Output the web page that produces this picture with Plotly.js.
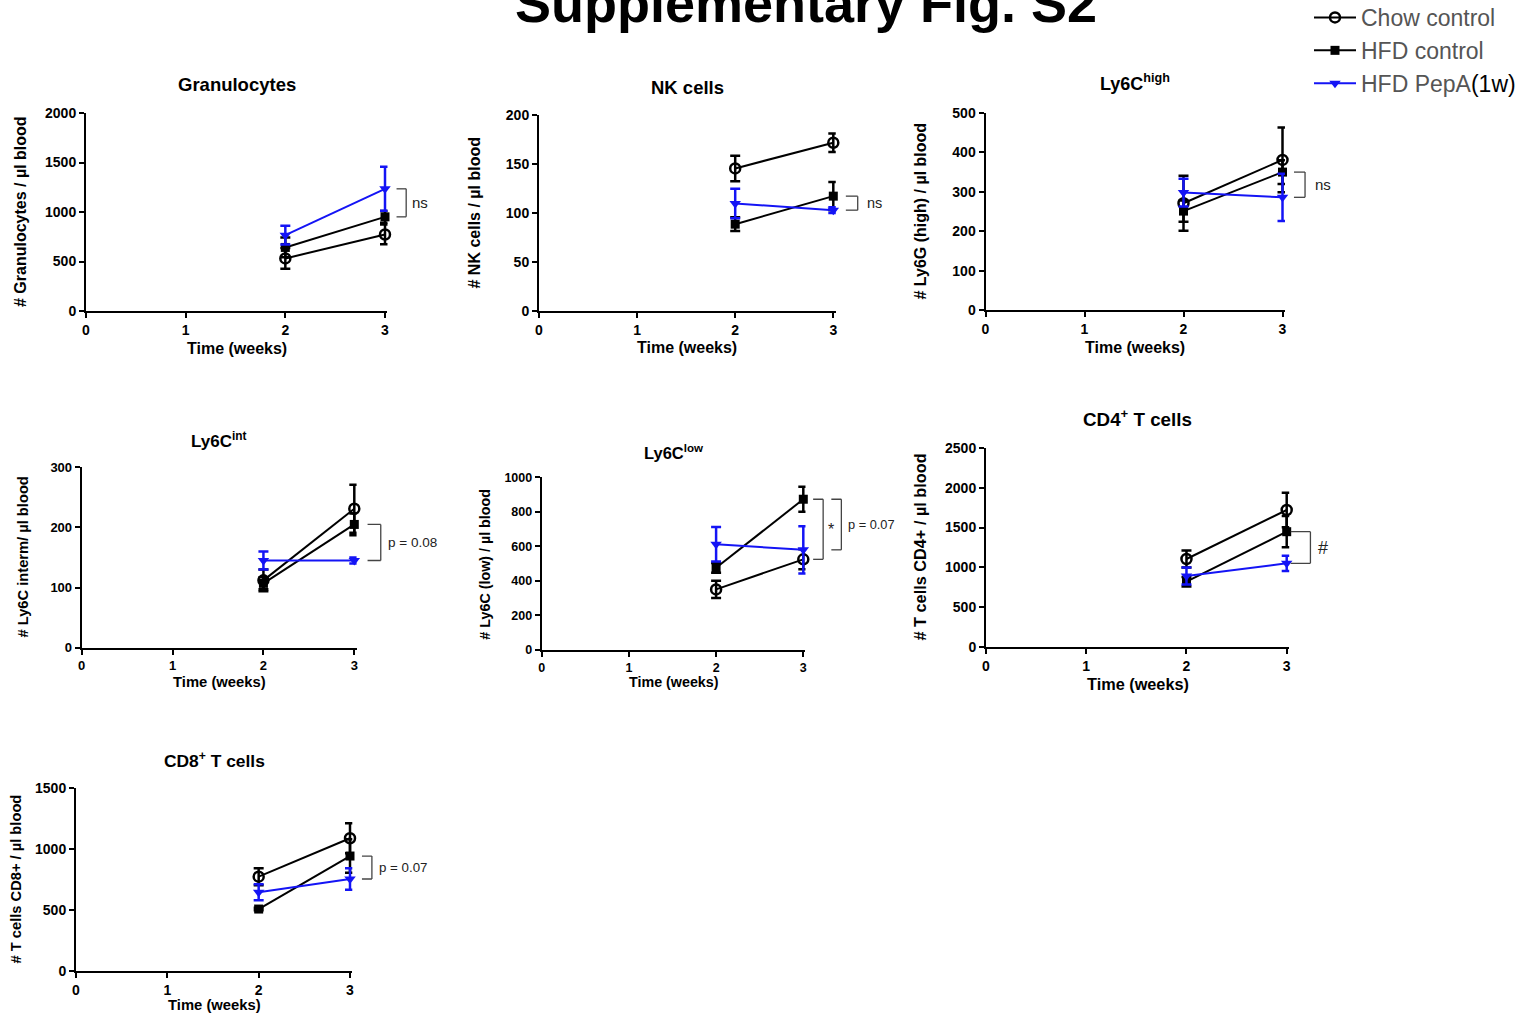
<!DOCTYPE html>
<html>
<head>
<meta charset="utf-8">
<script src="https://cdn.plot.ly/plotly-3.0.1.min.js"></script>
<style>
  html, body { margin: 0; padding: 0; background: #fff; }
  #chart { width: 1535px; height: 1016px; }
</style>
</head>
<body>
<div id="chart"></div>
<script>
// ---------------- DATA ----------------
const weeks = [2, 3];
const xTicks = [0, 1, 2, 3];
const groupNames = ['Chow control', 'HFD control', 'HFD PepA<span style="color:#000">(1w)</span>'];

// Granulocytes
const granChow = [531, 773], granChowErr = [105, 100];
const granHFD = [642, 951], granHFDErr = [100, 60];
const granPepA = [766, 1234], granPepAErr = [95, 222];
const granTicks = [0, 500, 1000, 1500, 2000];

// NK cells
const nkChow = [145.5, 171.7], nkChowErr = [13, 9.5];
const nkHFD = [88.6, 117.2], nkHFDErr = [7, 14.5];
const nkPepA = [109.7, 102.9], nkPepAErr = [15, 3];
const nkTicks = [0, 50, 100, 150, 200];

// Ly6C high
const hiChow = [271, 381], hiChowErr = [70, 82];
const hiHFD = [251, 350], hiHFDErr = [27, 30];
const hiPepA = [298, 286], hiPepAErr = [35, 60];
const hiTicks = [0, 100, 200, 300, 400, 500];

// Ly6C int
const intChow = [112, 231], intChowErr = [18, 40];
const intHFD = [107, 205], intHFDErr = [10, 18];
const intPepA = [145, 145], intPepAErr = [15, 5];
const intTicks = [0, 100, 200, 300];

// Ly6C low
const lowChow = [351, 525], lowChowErr = [50, 58];
const lowHFD = [476, 873], lowHFDErr = [28, 73];
const lowPepA = [612, 580], lowPepAErr = [100, 137];
const lowTicks = [0, 200, 400, 600, 800, 1000];

// CD4+ T cells
const cd4Chow = [1106, 1720], cd4ChowErr = [105, 215];
const cd4HFD = [822, 1448], cd4HFDErr = [60, 195];
const cd4PepA = [893, 1052], cd4PepAErr = [105, 95];
const cd4Ticks = [0, 500, 1000, 1500, 2000, 2500];

// CD8+ T cells
const cd8Chow = [773, 1089], cd8ChowErr = [70, 123];
const cd8HFD = [507, 943], cd8HFDErr = [10, 137];
const cd8PepA = [645, 754], cd8PepAErr = [65, 88];
const cd8Ticks = [0, 500, 1000, 1500];

// Significance labels
const granSig = 'ns', nkSig = 'ns', hiSig = 'ns', intSig = 'p = 0.08';
const lowSigA = '*', lowSigB = 'p = 0.07', cd4Sig = '#', cd8Sig = 'p = 0.07';

// ---------------- LAYOUT / STYLE ----------------
const W = 1535, H = 1016;
const FONT = 'Liberation Sans, Arial, Helvetica, sans-serif';
const BLUE = 'rgb(20,20,245)';
const XMAX = 3.025;

// pixel geometry of each panel: left (x=0), x3 (x=3), top, bottom
const panels = [
  {title: 'Granulocytes', ytitle: '# Granulocytes / µl blood', chow: granChow, chowE: granChowErr, hfd: granHFD, hfdE: granHFDErr, pep: granPepA, pepE: granPepAErr, ticks: granTicks,
   px: [86, 385, 113, 311], tickSize: 14, titleSize: 18.5, titleShift: 29, yTitleX: 20, yTitleSize: 16, xTitleSize: 16, xTitleShift: -37,
   brackets: [{a: 'hfd', b: 'pep', x0: 1.03, x1: 1.062, label: granSig, tx: 1.074, size: 15}]},
  {title: 'NK cells', ytitle: '# NK cells / µl blood', chow: nkChow, chowE: nkChowErr, hfd: nkHFD, hfdE: nkHFDErr, pep: nkPepA, pepE: nkPepAErr, ticks: nkTicks,
   px: [539, 833.3, 115, 311], tickSize: 14, titleSize: 18.5, titleShift: 28, yTitleX: 473.5, yTitleSize: 16, xTitleSize: 16, xTitleShift: -36,
   brackets: [{a: 'hfd', b: 'pep', x0: 1.034, x1: 1.074, label: nkSig, tx: 1.098, size: 14.5}]},
  {title: 'Ly6C<sup>high</sup>', ytitle: '# Ly6G (high) / µl blood', chow: hiChow, chowE: hiChowErr, hfd: hiHFD, hfdE: hiHFDErr, pep: hiPepA, pepE: hiPepAErr, ticks: hiTicks,
   px: [985.5, 1282.5, 113, 310], tickSize: 14, titleSize: 18, titleShift: 31, yTitleX: 920, yTitleSize: 16, xTitleSize: 16, xTitleShift: -37,
   brackets: [{a: 'hfd', b: 'pep', x0: 1.03, x1: 1.067, label: hiSig, tx: 1.093, size: 15}]},
  {title: 'Ly6C<sup>int</sup>', ytitle: '# Ly6C interm/ µl blood', chow: intChow, chowE: intChowErr, hfd: intHFD, hfdE: intHFDErr, pep: intPepA, pepE: intPepAErr, ticks: intTicks,
   px: [81.7, 354.3, 467.3, 647.7], tickSize: 13, titleSize: 17, titleShift: 27, yTitleX: 22, yTitleSize: 14.7, xTitleSize: 14.8, xTitleShift: -34,
   brackets: [{a: 'hfd', b: 'pep', x0: 1.04, x1: 1.088, label: intSig, tx: 1.108, size: 13.5}]},
  {title: 'Ly6C<sup>low</sup>', ytitle: '# Ly6C (low) / µl blood', chow: lowChow, chowE: lowChowErr, hfd: lowHFD, hfdE: lowHFDErr, pep: lowPepA, pepE: lowPepAErr, ticks: lowTicks,
   px: [541.7, 803.3, 477.3, 650], tickSize: 12.5, titleSize: 16.5, titleShift: 25, yTitleX: 485, yTitleSize: 14.3, xTitleSize: 14.3, xTitleShift: -32,
   brackets: [{a: 'hfd', b: 'chow', x0: 1.029, x1: 1.067, label: lowSigA, tx: 1.076, size: 16},
              {a: 'hfd', b: 'pep', x0: 1.098, x1: 1.136, label: lowSigB, tx: 1.155, size: 12.8}]},
  {title: 'CD4<sup>+</sup> T cells', ytitle: '# T cells CD4+ / µl blood', chow: cd4Chow, chowE: cd4ChowErr, hfd: cd4HFD, hfdE: cd4HFDErr, pep: cd4PepA, pepE: cd4PepAErr, ticks: cd4Ticks,
   px: [986, 1286.7, 447.7, 647.3], tickSize: 14, titleSize: 18.8, titleShift: 30, yTitleX: 919, yTitleSize: 16.3, xTitleSize: 16.3, xTitleShift: -37,
   brackets: [{a: 'hfd', b: 'pep', x0: 1.005, x1: 1.07, label: cd4Sig, tx: 1.09, size: 18}]},
  {title: 'CD8<sup>+</sup> T cells', ytitle: '# T cells CD8+ / µl blood', chow: cd8Chow, chowE: cd8ChowErr, hfd: cd8HFD, hfdE: cd8HFDErr, pep: cd8PepA, pepE: cd8PepAErr, ticks: cd8Ticks,
   px: [76, 350, 788.3, 970.7], tickSize: 14, titleSize: 17.4, titleShift: 28, yTitleX: 15, yTitleSize: 14.7, xTitleSize: 14.8, xTitleShift: -34,
   brackets: [{a: 'hfd', b: 'pep', x0: 1.035, x1: 1.071, label: cd8Sig, tx: 1.09, size: 13.3}]}
];

const traces = [];
const layout = {
  width: W, height: H,
  margin: {l: 0, r: 0, t: 0, b: 0, autoexpand: false},
  paper_bgcolor: '#fff', plot_bgcolor: 'rgba(0,0,0,0)',
  font: {family: FONT, color: '#000'},
  showlegend: true,
  legend: {x: 1309 / W, y: 1 + 4 / H, xanchor: 'left', yanchor: 'top', itemwidth: 42,
           font: {size: 23, color: '#555', family: FONT}, bgcolor: 'rgba(0,0,0,0)', tracegroupgap: 0},
  shapes: [], annotations: []
};

layout.annotations.push({
  text: '<b>Supplementary Fig. S2</b>', xref: 'paper', yref: 'paper',
  x: 806 / W, y: 1 - 35 / H, xanchor: 'center', yanchor: 'bottom', showarrow: false,
  font: {size: 54, family: FONT, color: '#000'}
});

const styles = [
  {key: 'chow', color: '#000', symbol: 'circle-open', size: 10, mlw: 2.5},
  {key: 'hfd', color: '#000', symbol: 'square', size: 9, mlw: 0},
  {key: 'pep', color: BLUE, symbol: 'triangle-down', size: 10, mlw: 0}
];

panels.forEach((p, i) => {
  const n = i === 0 ? '' : String(i + 1);
  const xa = 'x' + n, ya = 'y' + n;
  const [left, x3, top, bottom] = p.px;
  const right = left + (x3 - left) * XMAX / 3;
  const ymax = p.ticks[p.ticks.length - 1];

  layout['xaxis' + n] = {
    domain: [left / W, right / W], anchor: ya, range: [0, XMAX],
    tickvals: xTicks, ticktext: xTicks.map(String),
    showline: true, linecolor: '#000', linewidth: 2, ticks: 'outside', ticklen: 5, tickwidth: 2, tickcolor: '#000',
    showgrid: false, zeroline: false, fixedrange: true, automargin: false,
    tickfont: {size: p.tickSize, family: FONT, color: '#000', weight: 'bold'}
  };
  layout['yaxis' + n] = {
    domain: [1 - bottom / H, 1 - top / H], anchor: xa, range: [0, ymax],
    tickvals: p.ticks, ticktext: p.ticks.map(String),
    showline: true, linecolor: '#000', linewidth: 2, ticks: 'outside', ticklen: 5, tickwidth: 2, tickcolor: '#000',
    showgrid: false, zeroline: false, fixedrange: true, automargin: false,
    tickfont: {size: p.tickSize, family: FONT, color: '#000', weight: 'bold'}
  };

  styles.forEach((s, k) => {
    traces.push({
      type: 'scatter', mode: 'lines+markers', x: weeks, y: p[s.key],
      xaxis: xa, yaxis: ya, name: groupNames[k], showlegend: i === 0, legendgroup: s.key,
      cliponaxis: false,
      line: {color: s.color, width: 2},
      marker: {color: s.color, symbol: s.symbol, size: s.size, line: {color: s.color, width: s.mlw}},
      error_y: {type: 'data', array: p[s.key + 'E'], visible: true, color: s.color, thickness: 2.5, width: 5}
    });
  });

  // subplot title
  layout.annotations.push({
    text: '<b>' + p.title + '</b>', xref: xa + ' domain', yref: ya + ' domain', x: 0.5, y: 1,
    xanchor: 'center', yanchor: 'middle', yshift: p.titleShift, showarrow: false,
    font: {size: p.titleSize, family: FONT, color: '#000'}
  });
  // y title
  layout.annotations.push({
    text: '<b>' + p.ytitle + '</b>', xref: 'paper', yref: ya + ' domain', x: p.yTitleX / W, y: 0.5,
    xanchor: 'center', yanchor: 'middle', textangle: -90, showarrow: false,
    font: {size: p.yTitleSize, family: FONT, color: '#000'}
  });
  // x title
  layout.annotations.push({
    text: '<b>Time (weeks)</b>', xref: xa + ' domain', yref: ya + ' domain', x: 0.5, y: 0,
    xanchor: 'center', yanchor: 'middle', yshift: p.xTitleShift, showarrow: false,
    font: {size: p.xTitleSize, family: FONT, color: '#000'}
  });

  // significance brackets (between week-3 means of two groups)
  p.brackets.forEach(b => {
    const ya0 = p[b.a][1], yb0 = p[b.b][1];
    const base = {type: 'line', xref: xa + ' domain', yref: ya, line: {color: '#444', width: 1.3}, layer: 'above'};
    layout.shapes.push(Object.assign({}, base, {x0: b.x0, x1: b.x1, y0: ya0, y1: ya0}));
    layout.shapes.push(Object.assign({}, base, {x0: b.x0, x1: b.x1, y0: yb0, y1: yb0}));
    layout.shapes.push(Object.assign({}, base, {x0: b.x1, x1: b.x1, y0: ya0, y1: yb0}));
    layout.annotations.push({
      text: b.label, xref: xa + ' domain', yref: ya, x: b.tx, y: (ya0 + yb0) / 2,
      xanchor: 'left', yanchor: 'middle', showarrow: false,
      font: {size: b.size, family: FONT, color: '#222'}
    });
  });
});

Plotly.newPlot('chart', traces, layout, {displayModeBar: false, staticPlot: true});
</script>
</body>
</html>
